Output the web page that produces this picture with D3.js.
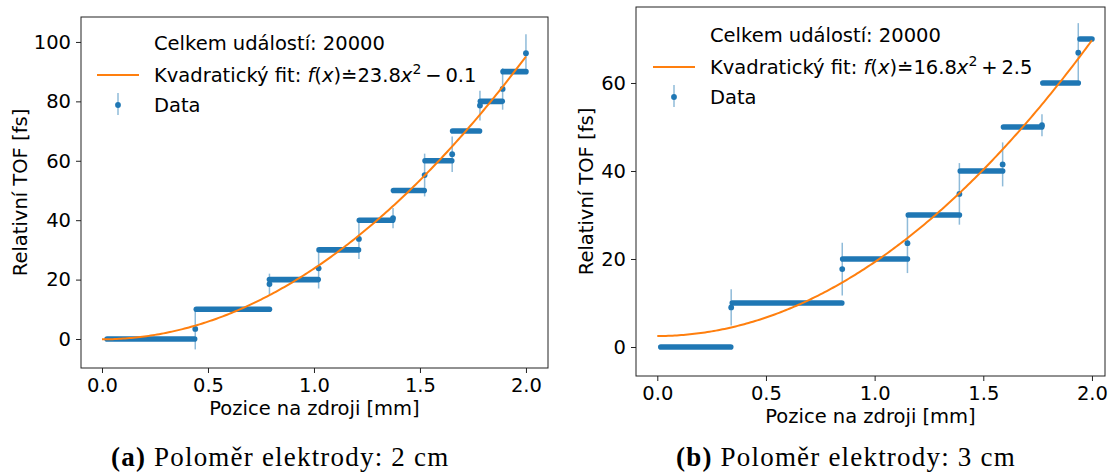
<!DOCTYPE html>
<html>
<head>
<meta charset="utf-8">
<script src="https://cdn.jsdelivr.net/npm/d3@7"></script>
<style>
  body { margin: 0; background: #fff; }
</style>
</head>
<body>
<svg width="1109" height="473"></svg>
<script>
// ---- panel (a): electrode radius 2 cm ----
// plateaus of the dense data points: start x, end x, TOF level
var platStartA = [0.024, 0.445, 0.79, 1.024, 1.214, 1.375, 1.524, 1.654, 1.785, 1.892];
var platEndA   = [0.437, 0.79, 1.02, 1.21, 1.371, 1.52, 1.65, 1.781, 1.888, 2.0];
var platLevelA = [0, 10, 20, 30, 40, 50, 60, 70, 80, 90];
// points at the step edges, with their error bars
var edgeXA   = [0.44, 0.79, 1.022, 1.212, 1.373, 1.522, 1.652, 1.783, 1.89, 2.0];
var edgeYA   = [3.4, 18.5, 23.8, 33.7, 40.7, 55.2, 62.2, 78.6, 84.2, 96.2];
var edgeErrA = [6.9, 3.5, 6.8, 6.8, 3.4, 7.2, 6.0, 5.0, 7.0, 6.4];
var fitA = [23.8, -0.1]; // f(x) = a*x^2 + c
var yTicksA = [0, 20, 40, 60, 80, 100];

// ---- panel (b): electrode radius 3 cm ----
var platStartB = [0.016, 0.345, 0.853, 1.155, 1.394, 1.593, 1.774, 1.945];
var platEndB   = [0.338, 0.849, 1.151, 1.39, 1.589, 1.769, 1.937, 2.0];
var platLevelB = [0, 10, 20, 30, 40, 50, 60, 70];
var edgeXB   = [0.34, 0.851, 1.151, 1.39, 1.589, 1.77, 1.937];
var edgeYB   = [9.0, 17.7, 23.6, 34.8, 41.5, 50.4, 66.9];
var edgeErrB = [4.1, 6.0, 6.8, 7.0, 5.0, 2.5, 6.7];
var fitB = [16.8, 2.5];
var yTicksB = [0, 20, 40, 60];

var xTicks = [0.0, 0.5, 1.0, 1.5, 2.0];
var fitLabelsA = ['23.8', '0.1', '\u2212'];
var fitLabelsB = ['16.8', '2.5', '+'];

var blue = '#1f77b4';
var orange = '#ff7f0e';
var fontSize = 19.5;
var sans = "'DejaVu Sans', sans-serif";

var svg = d3.select('svg');
svg.append('rect').attr('width', 1109).attr('height', 473).attr('fill', '#fff');

function drawPanel(p) {
  var g = svg.append('g').style('font-family', sans);
  var x = d3.scaleLinear().domain(p.xDomain).range([p.left, p.right]);
  var y = d3.scaleLinear().domain(p.yDomain).range([p.bottom, p.top]);

  // error bars
  g.selectAll('line.err').data(p.edgeX).enter()
    .append('line')
    .attr('x1', function(d) { return x(d); })
    .attr('x2', function(d) { return x(d); })
    .attr('y1', function(d, i) { return y(p.edgeY[i] - p.edgeErr[i]); })
    .attr('y2', function(d, i) { return y(p.edgeY[i] + p.edgeErr[i]); })
    .attr('stroke', blue)
    .attr('stroke-opacity', 0.5)
    .attr('stroke-width', 1.5);

  // plateaus (many overlapping markers)
  g.selectAll('line.plat').data(p.platStart).enter()
    .append('line')
    .attr('x1', function(d) { return x(d); })
    .attr('x2', function(d, i) { return x(p.platEnd[i]); })
    .attr('y1', function(d, i) { return y(p.platLevel[i]); })
    .attr('y2', function(d, i) { return y(p.platLevel[i]); })
    .attr('stroke', blue)
    .attr('stroke-width', 5.6)
    .attr('stroke-linecap', 'round');

  g.selectAll('circle.edge').data(p.edgeX).enter()
    .append('circle')
    .attr('cx', function(d) { return x(d); })
    .attr('cy', function(d, i) { return y(p.edgeY[i]); })
    .attr('r', 2.9)
    .attr('fill', blue);

  // quadratic fit
  var xs = d3.range(0, 2.0001, 0.01);
  var line = d3.line()
    .x(function(d) { return x(d); })
    .y(function(d) { return y(p.fit[0] * d * d + p.fit[1]); });
  g.append('path').datum(xs)
    .attr('d', line)
    .attr('fill', 'none')
    .attr('stroke', orange)
    .attr('stroke-width', 2);

  // axes
  var ax = g.append('g').attr('transform', 'translate(0,' + p.bottom + ')')
    .call(d3.axisBottom(x).tickValues(xTicks).tickFormat(d3.format('.1f')).tickSize(5).tickPadding(5));
  var ay = g.append('g').attr('transform', 'translate(' + p.left + ',0)')
    .call(d3.axisLeft(y).tickValues(p.yTicks).tickFormat(d3.format('d')).tickSize(5).tickPadding(5));
  [ax, ay].forEach(function(a) {
    a.attr('font-family', null).attr('font-size', null);
    a.select('.domain').remove();
    a.selectAll('line').attr('stroke', '#222').attr('stroke-width', 1);
    a.selectAll('text').style('font-size', fontSize + 'px').style('font-family', sans).attr('fill', '#000');
  });

  g.append('rect')
    .attr('x', p.left).attr('y', p.top)
    .attr('width', p.right - p.left).attr('height', p.bottom - p.top)
    .attr('fill', 'none').attr('stroke', '#222').attr('stroke-width', 1);

  g.append('text')
    .attr('x', (p.left + p.right) / 2).attr('y', p.bottom + 47)
    .attr('text-anchor', 'middle').attr('font-size', fontSize)
    .text('Pozice na zdroji [mm]');
  g.append('text')
    .attr('transform', 'translate(' + p.yLabelX + ',' + ((p.top + p.bottom) / 2) + ') rotate(-90)')
    .attr('text-anchor', 'middle').attr('font-size', fontSize)
    .text('Relativní TOF [fs]');

  // legend
  var lx = p.legendX, ly = p.legendY;
  g.append('text').attr('x', lx + 57).attr('y', ly).attr('font-size', fontSize)
    .text('Celkem událostí: 20000');
  g.append('line')
    .attr('x1', lx).attr('x2', lx + 42)
    .attr('y1', ly + 25).attr('y2', ly + 25)
    .attr('stroke', orange).attr('stroke-width', 2);
  var t = g.append('text').attr('x', lx + 57).attr('y', ly + 32).attr('font-size', fontSize);
  t.append('tspan').text('Kvadratický fit: ');
  t.append('tspan').attr('font-style', 'italic').text('f');
  t.append('tspan').text('(');
  t.append('tspan').attr('font-style', 'italic').text('x');
  t.append('tspan').text(')\u2250' + p.labels[0]);
  t.append('tspan').attr('font-style', 'italic').text('x');
  t.append('tspan').attr('font-size', 14).attr('dy', -8).text('2');
  t.append('tspan').attr('dy', 8).text('\u2009' + p.labels[2] + '\u2009' + p.labels[1]);

  g.append('line')
    .attr('x1', lx + 21).attr('x2', lx + 21)
    .attr('y1', ly + 43).attr('y2', ly + 65)
    .attr('stroke', blue).attr('stroke-opacity', 0.5).attr('stroke-width', 1.5);
  g.append('circle').attr('cx', lx + 21).attr('cy', ly + 55).attr('r', 2.9).attr('fill', blue);
  g.append('text').attr('x', lx + 57).attr('y', ly + 62).attr('font-size', fontSize)
    .text('Data');

  // caption (LaTeX-like serif)
  var c = svg.append('text')
    .attr('x', p.capX).attr('y', 466)
    .style('font-family', "'Liberation Serif', 'DejaVu Serif', serif")
    .style('font-size', '27px')
    .style('letter-spacing', '1.2px');
  c.append('tspan').attr('font-weight', 'bold').text(p.capTag);
  c.append('tspan').text(' Poloměr elektrody: ' + p.capR + ' cm');
}

drawPanel({
  left: 81, right: 548, top: 17, bottom: 368,
  xDomain: [-0.099, 2.104], yDomain: [-9.76, 108.4],
  platStart: platStartA, platEnd: platEndA, platLevel: platLevelA,
  edgeX: edgeXA, edgeY: edgeYA, edgeErr: edgeErrA,
  fit: fitA, yTicks: yTicksA, labels: fitLabelsA,
  yLabelX: 27, legendX: 97, legendY: 50,
  capX: 111, capTag: '(a)', capR: 2
});

drawPanel({
  left: 636, right: 1105, top: 7, bottom: 376,
  xDomain: [-0.098, 2.06], yDomain: [-6.59, 77.27],
  platStart: platStartB, platEnd: platEndB, platLevel: platLevelB,
  edgeX: edgeXB, edgeY: edgeYB, edgeErr: edgeErrB,
  fit: fitB, yTicks: yTicksB, labels: fitLabelsB,
  yLabelX: 593, legendX: 653, legendY: 42,
  capX: 676, capTag: '(b)', capR: 3
});
</script>
</body>
</html>
